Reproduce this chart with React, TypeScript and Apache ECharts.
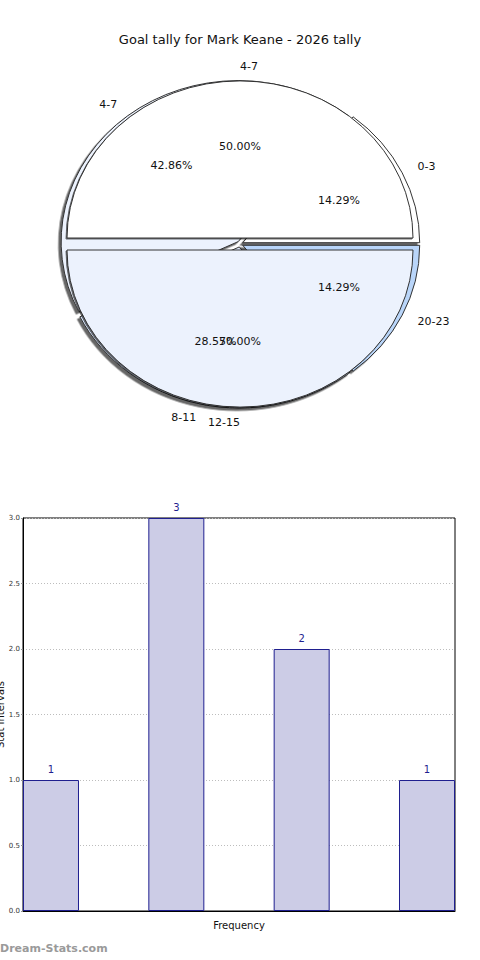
import React, { useEffect, useRef } from "react";
import * as echarts from "echarts";

const TITLE = "Goal tally for Mark Keane - 2026 tally";
const WATERMARK = "Dream-Stats.com";

// Inner (lower) pie
const innerNames = ["0-3", "4-7", "8-11", "20-23"];
const innerValues = [1, 3, 2, 1];
const innerColors = ["#ffffff", "#ecf2fd", "#dbe7fb", "#b9d5f9"];

// Outer (upper) pie
const outerNames = ["4-7", "12-15"];
const outerValues = [1, 1];
const outerColors = ["#ffffff", "#ecf2fd"];

// Bar chart
const barPositions = [0, 1, 2, 3];
const barValues = [1, 3, 2, 1];
const Y_MIN = 0;
const Y_MAX = 3;
const Y_STEP = 0.5;
const X_NAME = "Frequency";
const Y_NAME = "Stat Intervals";

const FONT = '"DejaVu Sans", Verdana, sans-serif';
const CX = 240;
const CY = 244;

type Slice = { a1: number; a2: number; mid: number; pct: number };
function slices(values: number[]): Slice[] {
  const total = values.reduce((a, b) => a + b, 0);
  let acc = 0;
  return values.map((v) => {
    const a1 = (acc / total) * 360;
    acc += v;
    const a2 = (acc / total) * 360;
    return { a1, a2, mid: (a1 + a2) / 2, pct: (v / total) * 100 };
  });
}

const D2R = Math.PI / 180;

function shapeRender(values: number[], colors: string[], rx: number, ry: number, explode: number, sh: number) {
  const sl = slices(values);
  return (params: any) => {
    const i = params.dataIndex;
    const s = sl[i];
    const m = s.mid * D2R;
    const k = ry / rx;
    return {
      type: "group",
      x: CX + explode * Math.cos(m),
      y: CY - explode * Math.sin(m),
      scaleY: k,
      children: [
        {
          type: "sector",
          shape: {
            cx: 0,
            cy: 0,
            r0: 0,
            r: rx,
            startAngle: -s.a1 * D2R,
            endAngle: -s.a2 * D2R,
            clockwise: false,
          },
          style: {
            fill: colors[i % colors.length],
            stroke: "#2a2a2a",
            lineWidth: 1,
            strokeNoScale: true,
            shadowColor: "rgba(0,0,0,0.6)",
            shadowBlur: 1.5,
            shadowOffsetX: -sh,
            shadowOffsetY: sh,
          },
        },
      ],
    };
  };
}

function labelRender(values: number[], names: string[], rx: number, ry: number) {
  const sl = slices(values);
  return (params: any) => {
    const i = params.dataIndex;
    const s = sl[i];
    const m = s.mid * D2R;
    const c = Math.cos(m);
    const sn = Math.sin(m);
    return {
      type: "group",
      children: [
        {
          type: "text",
          x: CX + 0.62 * rx * c,
          y: CY - 0.62 * ry * sn,
          style: {
            text: s.pct.toFixed(2) + "%",
            fill: "#111",
            font: "11px " + FONT,
            align: "center",
            verticalAlign: "middle",
          },
        },
        {
          type: "text",
          x: CX + 197 * c,
          y: CY - 178 * sn,
          style: {
            text: names[i],
            fill: "#111",
            font: "11px " + FONT,
            align: c >= 0 ? "left" : "right",
            verticalAlign: "middle",
          },
        },
      ],
    };
  };
}

export default function App() {
  const ref = useRef<HTMLDivElement>(null);
  useEffect(() => {
    document.body.style.margin = "0";
    if (!ref.current) return;
    const chart = echarts.init(ref.current, null, { renderer: "svg" });
    chart.setOption({
      animation: false,
      backgroundColor: "#ffffff",
      title: {
        text: TITLE,
        left: "center",
        top: 28,
        textStyle: { fontFamily: FONT, fontSize: 13, fontWeight: "normal", color: "#111" },
      },
      grid: {
        left: 23,
        right: 25,
        top: 518,
        bottom: 49,
        show: true,
        borderColor: "#000",
        borderWidth: 1,
        backgroundColor: "transparent",
        containLabel: false,
        outerBoundsMode: "none",
      },
      xAxis: {
        type: "value",
        min: -0.2234,
        max: 3.2234,
        axisLabel: { show: false },
        axisTick: { show: false },
        splitLine: { show: false },
        axisLine: { show: true, onZero: false, lineStyle: { color: "#000" } },
        name: X_NAME,
        nameLocation: "middle",
        nameGap: 9,
        nameMoveOverlap: false,
        nameTextStyle: { fontFamily: FONT, fontSize: 10, color: "#111" },
      },
      yAxis: {
        type: "value",
        min: Y_MIN,
        max: Y_MAX,
        interval: Y_STEP,
        axisLabel: {
          formatter: (v: number) => v.toFixed(1),
          fontFamily: FONT,
          fontSize: 7,
          color: "#333",
          margin: 3,
        },
        axisTick: { show: true, length: 2, lineStyle: { color: "#999" } },
        splitLine: { show: true, lineStyle: { type: [1, 2], color: "#bdbdbd", width: 1 } },
        axisLine: { show: true, onZero: false, lineStyle: { color: "#000" } },
        name: Y_NAME,
        nameLocation: "middle",
        nameRotate: 90,
        nameGap: 18,
        nameMoveOverlap: false,
        nameTextStyle: { fontFamily: FONT, fontSize: 10, color: "#111" },
      },
      series: [
        {
          type: "custom",
          coordinateSystem: "none",
          z: 1,
          data: innerValues,
          renderItem: shapeRender(innerValues, innerColors, 177, 161, 3, 2.5),
        },
        {
          type: "custom",
          coordinateSystem: "none",
          z: 2,
          data: outerValues,
          renderItem: shapeRender(outerValues, outerColors, 173, 157, 6, 1),
        },
        {
          type: "custom",
          coordinateSystem: "none",
          z: 3,
          data: innerValues,
          renderItem: labelRender(innerValues, innerNames, 177, 161),
        },
        {
          type: "custom",
          coordinateSystem: "none",
          z: 3,
          data: outerValues,
          renderItem: labelRender(outerValues, outerNames, 173, 157),
        },
        {
          type: "bar",
          data: barPositions.map((x, i) => [x, barValues[i]]),
          barWidth: 56,
          itemStyle: { color: "#cccce6", borderColor: "#1f1f8f", borderWidth: 1 },
          label: {
            show: true,
            position: "top",
            distance: 6,
            formatter: (p: any) => String(p.value[1]),
            color: "#1f1f8f",
            fontFamily: FONT,
            fontSize: 10,
          },
        },
      ],
      graphic: [
        {
          type: "text",
          left: 0,
          top: 943,
          style: {
            text: WATERMARK,
            fill: "#9a9a9a",
            font: "bold 11px " + FONT,
          },
        },
      ],
    });
    return () => chart.dispose();
  }, []);
  return <div ref={ref} style={{ width: 480, height: 960 }} />;
}
